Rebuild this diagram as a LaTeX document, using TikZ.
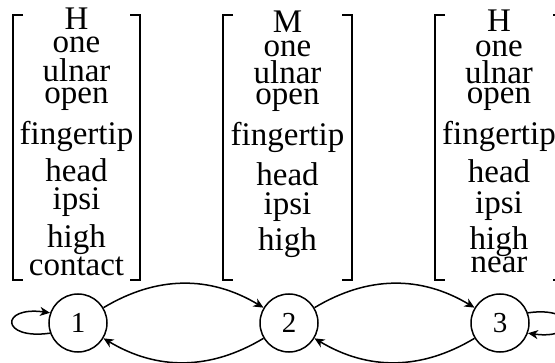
\documentclass[tikz,border=0pt]{standalone}
\usepackage{fontspec}
\setmainfont{Liberation Serif}
\usetikzlibrary{arrows.meta}
\begin{document}
\begin{tikzpicture}[x=1pt,y=1pt,
  lbl/.style={anchor=base,inner sep=0pt,font=\fontsize{33}{40}\selectfont},
  state/.style={draw,circle,line width=1.5pt,minimum size=58pt,inner sep=0pt,
    font=\fontsize{29}{34}\selectfont},
  brk/.style={line width=1.6pt},
  arr/.style={line width=1.5pt,-{Stealth[length=10pt,width=9pt,inset=3pt]}}]
\useasboundingbox (0,0) rectangle (555,362);
\clip (0,0) rectangle (555,362);

% feature bundle 1
\draw[brk] (23,347) -- (13,347) -- (13,82) -- (23,82);
\draw[brk] (130,347) -- (140,347) -- (140,82) -- (130,82);
\foreach \txt/\yy [count=\i] in {H/30,one/53,ulnar/82,open/104,fingertip/145,head/182,ipsi/210,high/248,contact/276}
  \node[lbl] (a\i) at (76.5,{362-\yy}) {\txt};

% feature bundle 2
\draw[brk] (233,347) -- (223,347) -- (223,82) -- (233,82);
\draw[brk] (342,347) -- (352,347) -- (352,82) -- (342,82);
\foreach \txt/\yy [count=\i] in {M/33,one/57,ulnar/84,open/105,fingertip/146,head/186,ipsi/215,high/251}
  \node[lbl] (b\i) at (287.5,{362-\yy}) {\txt};

% feature bundle 3
\draw[brk] (445,347) -- (435,347) -- (435,82) -- (445,82);
\draw[brk] (553,347) -- (563,347) -- (563,82) -- (553,82);
\foreach \txt/\yy [count=\i] in {H/32,one/57,ulnar/84,open/104,fingertip/145,head/183,ipsi/214,high/250,near/273}
  \node[lbl] (c\i) at (499,{362-\yy}) {\txt};

% states
\node[state] (s1) at (78,39) {1};
\node[state] (s2) at (289,39) {2};
\node[state] (s3) at (500,39) {3};

% transitions
\draw[arr] (s1) to[bend left=31] (s2);
\draw[arr] (s2) to[bend left=31] (s1);
\draw[arr] (s2) to[bend left=31] (s3);
\draw[arr] (s3) to[bend left=31] (s2);
\draw[arr] (s1.200) .. controls +(-50,-7) and +(-50,7) .. (s1.160);
\draw[arr] (s3.20) .. controls +(50,7) and +(50,-7) .. (s3.-20);
\end{tikzpicture}
\end{document}
